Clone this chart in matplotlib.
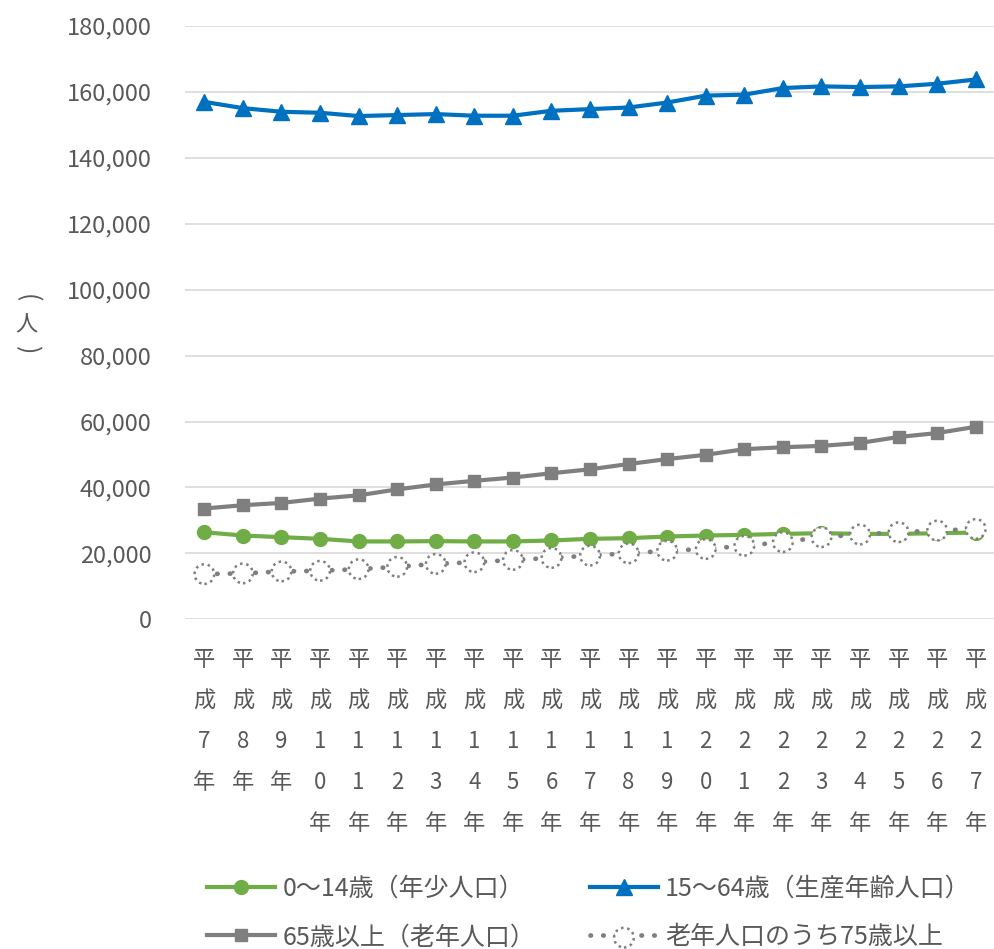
import matplotlib
matplotlib.use("Agg")
import matplotlib.pyplot as plt
from matplotlib.legend_handler import HandlerTuple
from matplotlib.ticker import FuncFormatter

plt.rcParams["font.family"] = ["Noto Sans CJK JP", "DejaVu Sans"]

TXT = "#595959"
GRID = "#d9d9d9"
GREEN = "#70ad47"
BLUE = "#0070c0"
GRAY = "#7f7f7f"

# 平成7年 .. 平成27年
YEARS = [f"平成{n}年" for n in range(7, 28)]

AGE_0_14 = [26400, 25400, 24900, 24400, 23600, 23600, 23700, 23600, 23600, 23900, 24400,
            24600, 25100, 25400, 25600, 25900, 26100, 25900, 25900, 26100, 26300]
AGE_15_64 = [157000, 155100, 154000, 153700, 152700, 153000, 153300, 152800, 152800, 154300, 154800,
             155300, 156800, 158900, 159200, 161200, 161700, 161500, 161700, 162500, 163800]
AGE_65_UP = [33600, 34600, 35300, 36600, 37600, 39400, 40900, 42000, 43000, 44300, 45500,
             47100, 48600, 49900, 51600, 52200, 52600, 53500, 55300, 56500, 58400]
AGE_75_UP = [13700, 13900, 14500, 14700, 15200, 15900, 16800, 17300, 18000, 18600, 19300,
             20000, 20800, 21300, 22300, 23400, 24900, 25700, 26400, 26900, 27400]

LABELS = ["0～14歳（年少人口）", "15～64歳（生産年齢人口）",
          "65歳以上（老年人口）", "老年人口のうち75歳以上"]

fig = plt.figure(figsize=(9.95, 9.49), dpi=100)
ax = fig.add_axes([0.186, 0.3475, 0.814, 0.625])

x = list(range(len(YEARS)))

l_green, = ax.plot(x, AGE_0_14, color=GREEN, lw=3, marker="o", ms=10,
                   solid_joinstyle="round", zorder=3)
l_blue, = ax.plot(x, AGE_15_64, color=BLUE, lw=3, marker="^", ms=11,
                  solid_joinstyle="round", zorder=3)
l_gray, = ax.plot(x, AGE_65_UP, color=GRAY, lw=3, marker="s", ms=9,
                  solid_joinstyle="round", zorder=3)
l_dot, = ax.plot(x, AGE_75_UP, color=GRAY, lw=3.4, linestyle=(0, (0.1, 2.6)),
                 dash_capstyle="round", zorder=4)
sc = ax.scatter(x, AGE_75_UP, s=200, facecolors="white", edgecolors=GRAY,
                linewidths=1.8, linestyles=(0, (1, 1.5)), zorder=5)

ax.set_xlim(-0.5, 20.5)
ax.set_ylim(0, 180000)
ax.set_yticks(range(0, 180001, 20000))
ax.yaxis.set_major_formatter(FuncFormatter(lambda v, p: f"{int(v):,}"))
ax.set_xticks(x)
ax.set_xticklabels(["\n".join(s) for s in YEARS], va="top", linespacing=2.0)
ax.grid(axis="y", color=GRID, lw=1.2)
ax.set_axisbelow(True)
for sp in ax.spines.values():
    sp.set_visible(False)
ax.tick_params(axis="y", length=0, pad=24, labelsize=17, labelcolor=TXT)
ax.tick_params(axis="x", length=0, pad=21, labelsize=16, labelcolor=TXT)

# vertical axis unit (人) written top to bottom
fig.text(0.027, 1 - 298 / 949, "(", color=TXT, fontsize=18, ha="center",
         va="center", rotation=-90)
fig.text(0.027, 1 - 325 / 949, "人", color=TXT, fontsize=16, ha="center",
         va="center")
fig.text(0.027, 1 - 350 / 949, ")", color=TXT, fontsize=18, ha="center",
         va="center", rotation=-90)

handles = [l_green, l_gray, l_blue, (l_dot, sc)]
labs = [LABELS[0], LABELS[2], LABELS[1], LABELS[3]]
fig.legend(handles, labs, ncol=2, loc="center", bbox_to_anchor=(0.592, 0.038),
           frameon=False, fontsize=18, labelcolor=TXT, handlelength=2.7,
           handletextpad=0.3, columnspacing=2.2, labelspacing=0.9,
           handler_map={tuple: HandlerTuple(ndivide=1, pad=0)})

fig.savefig("out.png", dpi=100, facecolor="white")
